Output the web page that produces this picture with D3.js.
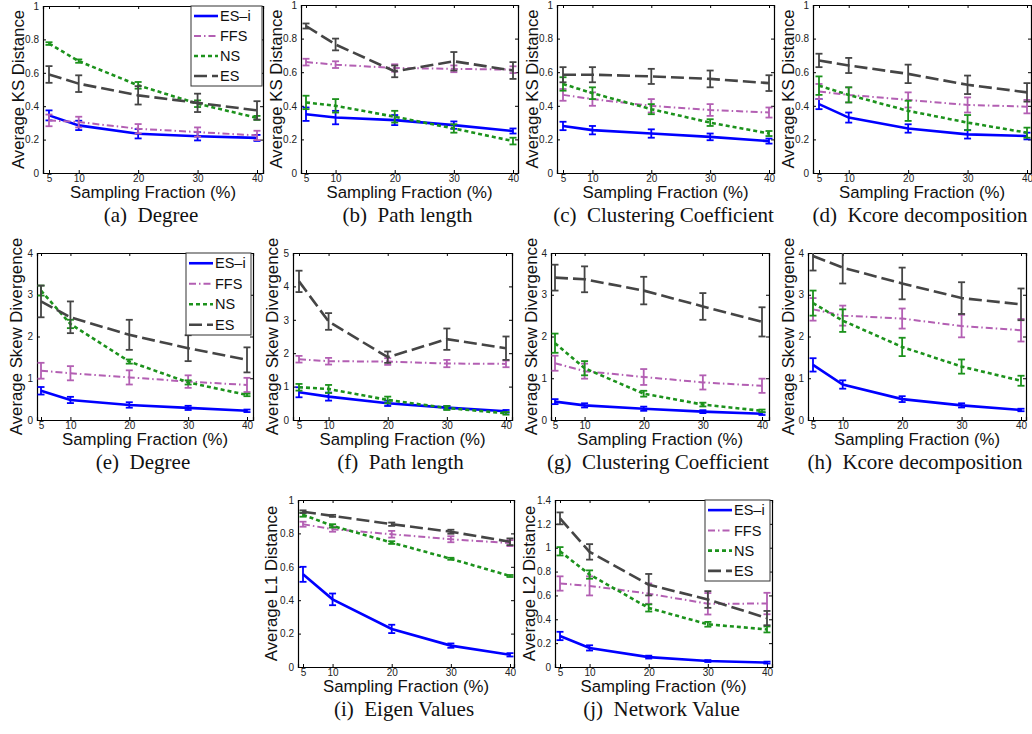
<!DOCTYPE html>
<html><head><meta charset="utf-8">
<script src="https://cdn.jsdelivr.net/npm/d3@7"></script>
<style>
body{margin:0;background:#fff;}
svg{display:block;}
.tick text{font-family:"Liberation Sans",Arial,sans-serif;font-size:10px;fill:#222;}
.axlabel{font-family:"Liberation Sans",Arial,sans-serif;font-size:16.8px;fill:#111;}
.caption{font-family:"Liberation Serif","Times New Roman",serif;font-size:21px;fill:#111;white-space:pre;}
.legtext{font-family:"Liberation Sans",Arial,sans-serif;font-size:14.5px;fill:#111;}
</style></head>
<body>
<svg id="fig" width="1032" height="734"></svg>
<script>
// ---------- data ----------
const fractions = [5, 10, 20, 30, 40];
const seriesNames = ["ES\u2013i", "FFS", "NS", "ES"];
const ksTicks = [0, 0.2, 0.4, 0.6, 0.8, 1];
const skew4Ticks = [0, 1, 2, 3, 4];
const skew5Ticks = [0, 1, 2, 3, 4, 5];
const l2Ticks = [0, 0.2, 0.4, 0.6, 0.8, 1, 1.2, 1.4];
const captions = ["(a)  Degree", "(b)  Path length", "(c)  Clustering Coefficient", "(d)  Kcore decomposition",
  "(e)  Degree", "(f)  Path length", "(g)  Clustering Coefficient", "(h)  Kcore decomposition",
  "(i)  Eigen Values", "(j)  Network Value"];
const yLabels = ["Average KS Distance", "Average KS Distance", "Average KS Distance", "Average KS Distance",
  "Average Skew Divergence", "Average Skew Divergence", "Average Skew Divergence", "Average Skew Divergence",
  "Average L1 Distance", "Average L2 Distance"];

// series order in each: ES-i, FFS, NS, ES
const degreeKS      = [[0.345,0.285,0.235,0.22,0.21],[0.315,0.305,0.265,0.245,0.225],[0.775,0.67,0.525,0.415,0.33],[0.59,0.535,0.465,0.42,0.375]];
const degreeKSErr   = [[0.03,0.028,0.028,0.025,0.018],[0.035,0.032,0.028,0.028,0.028],[0.008,0.01,0.02,0.02,0.012],[0.05,0.05,0.055,0.055,0.055]];
const pathKS        = [[0.35,0.33,0.315,0.285,0.25],[0.66,0.645,0.625,0.62,0.615],[0.42,0.40,0.335,0.265,0.19],[0.875,0.765,0.605,0.665,0.61]];
const pathKSErr     = [[0.04,0.04,0.03,0.022,0.015],[0.02,0.02,0.022,0.02,0.02],[0.04,0.04,0.035,0.025,0.02],[0.015,0.035,0.035,0.055,0.05]];
const clustKS       = [[0.28,0.255,0.235,0.215,0.19],[0.465,0.44,0.4,0.375,0.36],[0.53,0.475,0.38,0.3,0.235],[0.585,0.585,0.575,0.56,0.535]];
const clustKSErr    = [[0.025,0.025,0.025,0.02,0.015],[0.035,0.04,0.04,0.035,0.03],[0.04,0.035,0.03,0.02,0.015],[0.045,0.045,0.045,0.05,0.047]];
const kcoreKS       = [[0.41,0.33,0.265,0.23,0.22],[0.485,0.465,0.435,0.405,0.395],[0.52,0.465,0.37,0.3,0.24],[0.67,0.64,0.59,0.525,0.48]];
const kcoreKSErr    = [[0.03,0.03,0.025,0.025,0.02],[0.045,0.045,0.045,0.045,0.04],[0.055,0.045,0.06,0.045,0.03],[0.04,0.045,0.055,0.055,0.055]];
const degreeSkew    = [[0.7,0.48,0.36,0.29,0.22],[1.18,1.12,1.02,0.92,0.84],[3.1,2.3,1.4,0.9,0.6],[2.84,2.46,2.04,1.72,1.44]];
const degreeSkewErr = [[0.09,0.075,0.065,0.05,0.03],[0.19,0.17,0.17,0.15,0.17],[0.12,0.1,0.05,0.05,0.03],[0.38,0.38,0.36,0.31,0.3]];
const pathSkew      = [[0.83,0.7,0.5,0.37,0.26],[1.82,1.76,1.75,1.69,1.68],[0.98,0.93,0.6,0.36,0.2],[4.15,2.95,1.88,2.42,2.15]];
const pathSkewErr   = [[0.15,0.12,0.08,0.05,0.04],[0.1,0.1,0.1,0.11,0.1],[0.1,0.12,0.1,0.06,0.04],[0.32,0.25,0.17,0.32,0.35]];
const clustSkew     = [[0.44,0.35,0.27,0.2,0.15],[1.36,1.17,1.03,0.9,0.82],[1.84,1.24,0.63,0.37,0.22],[3.41,3.37,3.1,2.72,2.35]];
const clustSkewErr  = [[0.06,0.05,0.05,0.035,0.03],[0.18,0.18,0.19,0.17,0.17],[0.23,0.17,0.07,0.045,0.03],[0.31,0.31,0.33,0.32,0.35]];
const kcoreSkew     = [[1.32,0.85,0.5,0.35,0.24],[2.65,2.5,2.43,2.25,2.15],[2.8,2.38,1.75,1.28,0.94],[3.93,3.65,3.27,2.92,2.77]];
const kcoreSkewErr  = [[0.16,0.1,0.07,0.05,0.03],[0.27,0.24,0.24,0.27,0.27],[0.3,0.27,0.22,0.17,0.12],[0.35,0.38,0.38,0.38,0.38]];
const eigenL1       = [[0.555,0.405,0.228,0.128,0.073],[0.855,0.825,0.795,0.765,0.742],[0.912,0.845,0.745,0.648,0.545],[0.93,0.905,0.855,0.81,0.75]];
const eigenL1Err    = [[0.045,0.035,0.025,0.013,0.01],[0.015,0.015,0.02,0.018,0.018],[0.012,0.01,0.008,0.006,0.006],[0.008,0.006,0.01,0.012,0.02]];
const netValueL2    = [[0.26,0.16,0.083,0.05,0.037],[0.70,0.68,0.615,0.53,0.532],[0.97,0.775,0.495,0.358,0.315],[1.246,0.965,0.69,0.566,0.41]];
const netValueL2Err = [[0.035,0.022,0.012,0.008,0.008],[0.06,0.08,0.085,0.09,0.09],[0.035,0.035,0.03,0.02,0.025],[0.05,0.065,0.09,0.07,0.06]];

// ---------- styles ----------
const colors = ["#0000ff", "#b35fb3", "#1c921c", "#454545"];
const dashes = [null, "7,3,1.5,3", "4,3", "13,5"];
const widths = [2.6, 2, 2.6, 2.6];

// ---------- layout ----------
const panels = [
  {mean: degreeKS,   err: degreeKSErr,   ymax: 1,   ticks: ksTicks,    box: [43,263,6,173],   x5: 49,  x40: 257,  ylab: 25, legend: [191,262,6,86]},
  {mean: pathKS,     err: pathKSErr,     ymax: 1,   ticks: ksTicks,    box: [301,518,5,173],  x5: 306, x40: 513,  ylab: 25},
  {mean: clustKS,    err: clustKSErr,    ymax: 1,   ticks: ksTicks,    box: [557,774,5,173],  x5: 563, x40: 769,  ylab: 25},
  {mean: kcoreKS,    err: kcoreKSErr,    ymax: 1,   ticks: ksTicks,    box: [813,1031,5,173], x5: 819, x40: 1027, ylab: 25},
  {mean: degreeSkew, err: degreeSkewErr, ymax: 4,   ticks: skew4Ticks, box: [37,253,253,420], x5: 41,  x40: 247,  ylab: 21, legend: [186,251,253,335]},
  {mean: pathSkew,   err: pathSkewErr,   ymax: 5,   ticks: skew5Ticks, box: [293,512,253,420],x5: 299, x40: 506,  ylab: 21},
  {mean: clustSkew,  err: clustSkewErr,  ymax: 4,   ticks: skew4Ticks, box: [551,769,253,420],x5: 555, x40: 762,  ylab: 20},
  {mean: kcoreSkew,  err: kcoreSkewErr,  ymax: 4,   ticks: skew4Ticks, box: [808,1026,253,420],x5: 813, x40: 1021, ylab: 20},
  {mean: eigenL1,    err: eigenL1Err,    ymax: 1,   ticks: ksTicks,    box: [298,514,500,667],x5: 303, x40: 510,  ylab: 27},
  {mean: netValueL2, err: netValueL2Err, ymax: 1.4, ticks: l2Ticks,    box: [555,772,500,667],x5: 560, x40: 767,  ylab: 26, legend: [705,770,500,581]}
];

const svg = d3.select("#fig");
const fmt = d3.format("~g");

panels.forEach((p, pi) => {
  const [L, R, T, B] = p.box;
  const k = (p.x40 - p.x5) / 35;
  const x = d3.scaleLinear().domain([5 - (p.x5 - L) / k, 40 + (R - p.x40) / k]).range([L, R]);
  const y = d3.scaleLinear().domain([0, p.ymax]).range([B, T]);
  const g = svg.append("g");

  const clipId = "clip" + pi;
  g.append("clipPath").attr("id", clipId).append("rect")
    .attr("x", L).attr("y", T).attr("width", R - L).attr("height", B - T);

  // axes
  const mk = (ax) => ax.tickSizeOuter(0).tickSize(-3);
  g.append("g").attr("transform", `translate(0,${B})`)
    .call(mk(d3.axisBottom(x)).tickValues(fractions).tickPadding(2).tickFormat(fmt));
  g.append("g").attr("transform", `translate(0,${T})`)
    .call(mk(d3.axisTop(x)).tickValues(fractions).tickFormat(""));
  g.append("g").attr("transform", `translate(${L},0)`)
    .call(mk(d3.axisLeft(y)).tickValues(p.ticks).tickPadding(4).tickFormat(fmt));
  g.append("g").attr("transform", `translate(${R},0)`)
    .call(mk(d3.axisRight(y)).tickValues(p.ticks).tickFormat(""));
  g.selectAll(".domain").attr("stroke", "#000").attr("stroke-width", 1.2);
  g.selectAll(".tick line").attr("stroke", "#000").attr("stroke-width", 1);

  // data
  const plot = g.append("g").attr("clip-path", `url(#${clipId})`);
  p.mean.forEach((vals, si) => {
    const errs = p.err[si];
    const eb = plot.append("g").attr("stroke", colors[si]).attr("stroke-width", 1.8).attr("fill", "none");
    fractions.forEach((f, i) => {
      const cx = x(f), y1 = y(vals[i] - errs[i]), y2 = y(vals[i] + errs[i]);
      eb.append("line").attr("x1", cx).attr("x2", cx).attr("y1", y1).attr("y2", y2);
      eb.append("line").attr("x1", cx - 3.5).attr("x2", cx + 3.5).attr("y1", y1).attr("y2", y1);
      eb.append("line").attr("x1", cx - 3.5).attr("x2", cx + 3.5).attr("y1", y2).attr("y2", y2);
    });
    const line = d3.line().x((d, i) => x(fractions[i])).y(d => y(d));
    plot.append("path").datum(vals).attr("d", line)
      .attr("fill", "none").attr("stroke", colors[si]).attr("stroke-width", widths[si])
      .attr("stroke-dasharray", dashes[si]);
  });

  // labels
  g.append("text").attr("class", "axlabel").attr("text-anchor", "middle")
    .attr("x", (L + R) / 2).attr("y", B + 25).text("Sampling Fraction (%)");
  g.append("text").attr("class", "axlabel").attr("text-anchor", "middle").attr("dy", "0.35em")
    .attr("transform", `translate(${L - p.ylab},${(T + B) / 2}) rotate(-90)`).text(yLabels[pi]);
  g.append("text").attr("class", "caption").attr("text-anchor", "middle")
    .attr("x", (L + R) / 2 - 2).attr("y", B + 49).text(captions[pi]);

  // legend
  if (p.legend) {
    const [lx0, lx1, ly0, ly1] = p.legend;
    const lg = g.append("g");
    lg.append("rect").attr("x", lx0).attr("y", ly0).attr("width", lx1 - lx0).attr("height", ly1 - ly0)
      .attr("fill", "#fff").attr("stroke", "#333").attr("stroke-width", 1);
    const step = (ly1 - ly0) / 4;
    seriesNames.forEach((name, si) => {
      const cy = ly0 + step * (si + 0.5);
      lg.append("line").attr("x1", lx0 + 3).attr("x2", lx0 + 27).attr("y1", cy).attr("y2", cy)
        .attr("stroke", colors[si]).attr("stroke-width", widths[si]).attr("stroke-dasharray", dashes[si]);
      lg.append("text").attr("class", "legtext").attr("x", lx0 + 29).attr("y", cy).attr("dy", "0.36em").text(name);
    });
  }
});
</script>
</body></html>
